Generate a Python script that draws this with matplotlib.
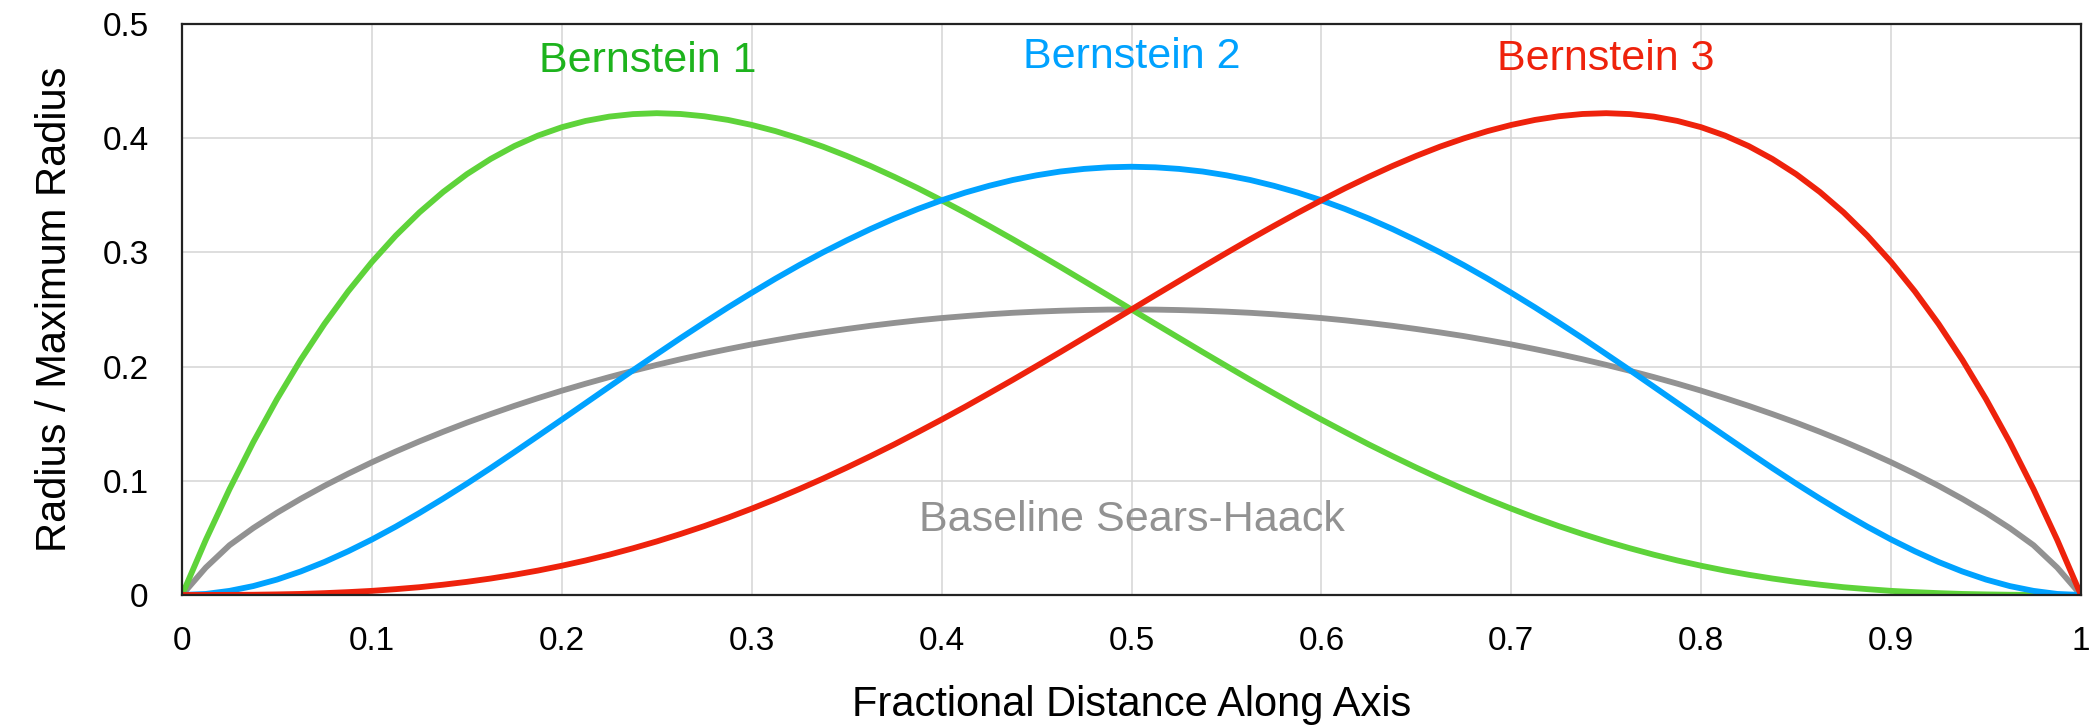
import matplotlib
matplotlib.use("Agg")
import matplotlib.pyplot as plt

plt.rcParams['font.family'] = ['Liberation Sans', 'DejaVu Sans']

# fractional distance along axis, values read every 0.0125
x = [i / 80 for i in range(81)]

bernstein_1 = [0, 0.0482, 0.0927, 0.1338, 0.1715, 0.2060, 0.2374, 0.2659, 0.2916,
               0.3146, 0.3350, 0.3529, 0.3685, 0.3818, 0.3931, 0.4023, 0.4096,
               0.4151, 0.4189, 0.4211, 0.4219, 0.4212, 0.4192, 0.4160, 0.4116,
               0.4062, 0.3998, 0.3926, 0.3845, 0.3757, 0.3662, 0.3562, 0.3456,
               0.3346, 0.3232, 0.3115, 0.2995, 0.2873, 0.2749, 0.2625, 0.2500,
               0.2375, 0.2251, 0.2127, 0.2005, 0.1884, 0.1766, 0.1649, 0.1536,
               0.1426, 0.1318, 0.1215, 0.1115, 0.1019, 0.0927, 0.0839, 0.0756,
               0.0677, 0.0603, 0.0534, 0.0469, 0.0409, 0.0353, 0.0302, 0.0256,
               0.0214, 0.0177, 0.0144, 0.0115, 0.0090, 0.0068, 0.0051, 0.0036,
               0.0025, 0.0016, 0.0009, 0.0005, 0.0002, 0.0001, 0.0000, 0]

bernstein_2 = [0, 0.0009, 0.0036, 0.0078, 0.0135, 0.0206, 0.0289, 0.0383, 0.0486,
               0.0598, 0.0718, 0.0844, 0.0975, 0.1111, 0.1251, 0.1393, 0.1536,
               0.1680, 0.1824, 0.1968, 0.2109, 0.2249, 0.2385, 0.2518, 0.2646,
               0.2770, 0.2888, 0.3000, 0.3105, 0.3204, 0.3296, 0.3380, 0.3456,
               0.3524, 0.3583, 0.3634, 0.3675, 0.3708, 0.3731, 0.3745, 0.3750,
               0.3745, 0.3731, 0.3708, 0.3675, 0.3634, 0.3583, 0.3524, 0.3456,
               0.3380, 0.3296, 0.3204, 0.3105, 0.3000, 0.2888, 0.2770, 0.2646,
               0.2518, 0.2385, 0.2249, 0.2109, 0.1968, 0.1824, 0.1680, 0.1536,
               0.1393, 0.1251, 0.1111, 0.0975, 0.0844, 0.0718, 0.0598, 0.0486,
               0.0383, 0.0289, 0.0206, 0.0135, 0.0078, 0.0036, 0.0009, 0]

bernstein_3 = [0, 0.0000, 0.0001, 0.0002, 0.0005, 0.0009, 0.0016, 0.0025, 0.0036,
               0.0051, 0.0068, 0.0090, 0.0115, 0.0144, 0.0177, 0.0214, 0.0256,
               0.0302, 0.0353, 0.0409, 0.0469, 0.0534, 0.0603, 0.0677, 0.0756,
               0.0839, 0.0927, 0.1019, 0.1115, 0.1215, 0.1318, 0.1426, 0.1536,
               0.1649, 0.1766, 0.1884, 0.2005, 0.2127, 0.2251, 0.2375, 0.2500,
               0.2625, 0.2749, 0.2873, 0.2995, 0.3115, 0.3232, 0.3346, 0.3456,
               0.3562, 0.3662, 0.3757, 0.3845, 0.3926, 0.3998, 0.4062, 0.4116,
               0.4160, 0.4192, 0.4212, 0.4219, 0.4211, 0.4189, 0.4151, 0.4096,
               0.4023, 0.3931, 0.3818, 0.3685, 0.3529, 0.3350, 0.3146, 0.2916,
               0.2659, 0.2374, 0.2060, 0.1715, 0.1338, 0.0927, 0.0482, 0]

sears_haack = [0, 0.0240, 0.0436, 0.0586, 0.0720, 0.0842, 0.0956, 0.1062, 0.1162,
               0.1256, 0.1345, 0.1429, 0.1509, 0.1584, 0.1656, 0.1724, 0.1789,
               0.1850, 0.1908, 0.1963, 0.2015, 0.2064, 0.2110, 0.2153, 0.2194,
               0.2231, 0.2267, 0.2299, 0.2329, 0.2357, 0.2382, 0.2405, 0.2425,
               0.2442, 0.2458, 0.2471, 0.2481, 0.2489, 0.2495, 0.2499, 0.2500,
               0.2499, 0.2495, 0.2489, 0.2481, 0.2471, 0.2458, 0.2442, 0.2425,
               0.2405, 0.2382, 0.2357, 0.2329, 0.2299, 0.2267, 0.2231, 0.2194,
               0.2153, 0.2110, 0.2064, 0.2015, 0.1963, 0.1908, 0.1850, 0.1789,
               0.1724, 0.1656, 0.1584, 0.1509, 0.1429, 0.1345, 0.1256, 0.1162,
               0.1062, 0.0956, 0.0842, 0.0720, 0.0586, 0.0436, 0.0240, 0]

x_ticks = [0, 0.1, 0.2, 0.3, 0.4, 0.5, 0.6, 0.7, 0.8, 0.9, 1]
x_tick_labels = ["0", "0.1", "0.2", "0.3", "0.4", "0.5", "0.6", "0.7", "0.8", "0.9", "1"]
y_ticks = [0, 0.1, 0.2, 0.3, 0.4, 0.5]
y_tick_labels = ["0", "0.1", "0.2", "0.3", "0.4", "0.5"]

for s in (bernstein_1, bernstein_2, bernstein_3, sears_haack):
    assert len(s) == len(x), len(s)

fig = plt.figure(figsize=(20.95, 7.27), dpi=100)
ax = fig.add_axes([0.0869, 0.1816, 0.9064, 0.7854])

lw = 4.2
ax.plot(x, sears_haack, color="#929292", lw=lw, solid_joinstyle="round")
ax.plot(x, bernstein_1, color="#5ed33a", lw=lw, solid_joinstyle="round")
ax.plot(x, bernstein_2, color="#00a2ff", lw=lw, solid_joinstyle="round")
ax.plot(x, bernstein_3, color="#ee220c", lw=lw, solid_joinstyle="round")

ax.text(0.245, 0.468, "Bernstein 1", color="#1db31d", fontsize=31, ha="center", va="center")
ax.text(0.5, 0.471, "Bernstein 2", color="#00a2ff", fontsize=31, ha="center", va="center")
ax.text(0.75, 0.469, "Bernstein 3", color="#ee220c", fontsize=31, ha="center", va="center")
ax.text(0.5, 0.066, "Baseline Sears-Haack", color="#929292", fontsize=31, ha="center", va="center")

ax.set_xlim(0, 1)
ax.set_ylim(0, 0.5)
ax.set_xticks(x_ticks)
ax.set_xticklabels(x_tick_labels)
ax.set_yticks(y_ticks)
ax.set_yticklabels(y_tick_labels)
ax.tick_params(length=0, labelsize=24)
ax.tick_params(axis="x", pad=22)
ax.tick_params(axis="y", pad=24)
ax.grid(True, color="#d4d4d4", lw=1.1)
ax.set_axisbelow(True)
for s in ax.spines.values():
    s.set_linewidth(1.6)
    s.set_color("#222222")

ax.set_xlabel("Fractional Distance Along Axis", fontsize=30, va="center")
ax.xaxis.set_label_coords(0.5, -0.193)
ax.set_ylabel("Radius / Maximum Radius", fontsize=30, va="center")
ax.yaxis.set_label_coords(-0.067, 0.5)

fig.savefig("out.png", dpi=100)
